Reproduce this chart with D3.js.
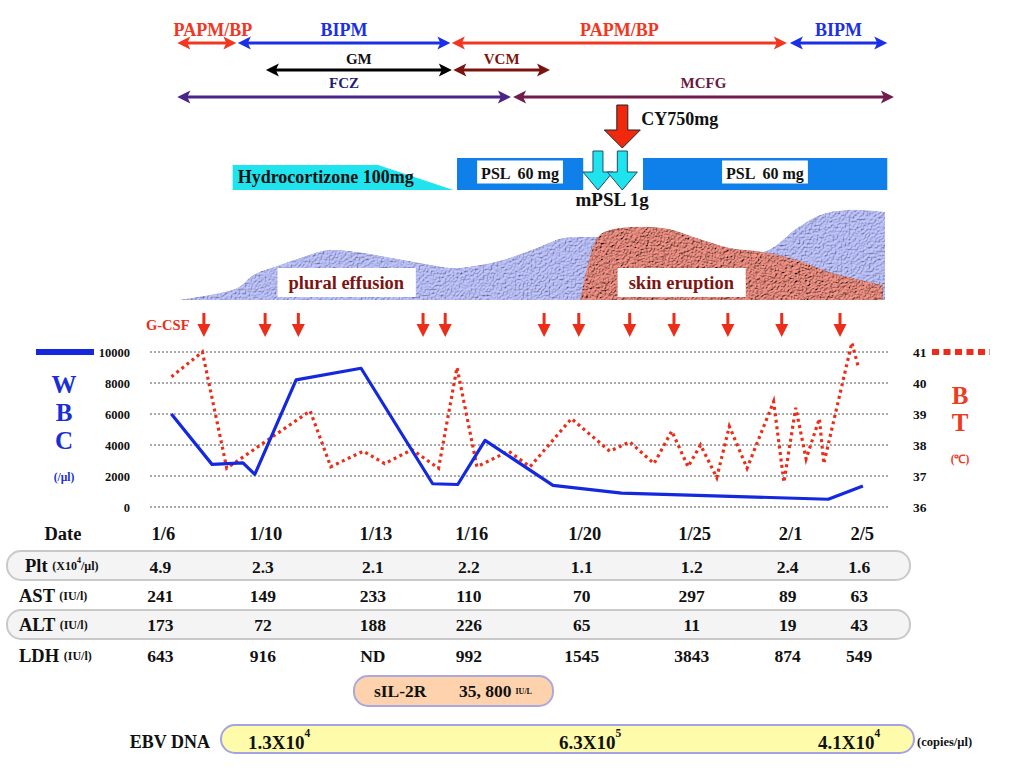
<!DOCTYPE html>
<html><head><meta charset="utf-8">
<script src="https://cdn.jsdelivr.net/npm/d3@7"></script>
<style>
html,body{margin:0;padding:0;background:#fff;}
svg{display:block;font-family:"Liberation Serif","Times New Roman",serif;font-weight:bold;}
</style></head><body>
<svg id="c" width="1024" height="768"></svg>
<script>
// ---------------- DATA ----------------
// relative timeline position (0..100) of each observation
const wbcT = [2.9, 8.4, 12.6, 14.2, 19.8, 28.6, 38.3, 41.7, 45.4, 54.6, 63.9, 91.9, 96.6];
const wbcV = [6000, 2750, 2850, 2100, 8200, 8950, 1500, 1450, 4300, 1400, 900, 500, 1350];
const btT = [2.9,7.1,10.4,21.7,24.5,28.9,31.8,35.5,39.1,41.6,44.3,48.6,51.5,57.1,62.3,65.0,68.3,70.7,72.9,74.6,76.8,78.5,80.9,84.5,85.9,87.5,88.9,90.7,91.3,95.1,96.0];
const btV = [40.2,41.0,37.25,39.1,37.3,37.8,37.4,37.85,37.25,40.5,37.3,37.8,37.3,38.85,37.8,38.1,37.4,38.45,37.3,38.0,36.95,38.6,37.25,39.4,36.8,39.2,37.55,38.85,37.4,41.3,40.5];
const wbcTicks = [0, 2000, 4000, 6000, 8000, 10000];
const btTicks = [36, 37, 38, 39, 40, 41];

const regNames = ["PAPM/BP","BIPM","PAPM/BP","BIPM","GM","VCM","FCZ","MCFG"];
const regRow   = [0,0,0,0,1,1,2,2];
const regStart = [3.7, 11.9, 40.9, 86.7, 15.7, 41.1, 3.7, 49.2];
const regEnd   = [11.7, 40.7, 86.3, 99.9, 40.9, 54.2, 48.9, 100.8];

const gcsfT = [7.3,15.6,20.1,37.0,40.0,53.4,58.1,65.0,71.0,78.3,85.6,93.5];
const hydroT = [11.2, 30.9, 41.1];       // start, taper start, taper end
const pslStart = [41.6, 66.8];
const pslEnd   = [58.7, 99.9];
const cyT = 64.0;
const mpslT = [60.7, 64.0];

const effusionT = [3.7,11.8,14.0,17.6,20.7,24.0,28.0,32.1,36.6,41.1,44.7,47.8,52.4,56.0,59.6,64,70,76,83.1,87.7,90.8,94.4,99.6];
const effusionV = [0,12,25,35,43,50,48,43,37,32,35,40,52,62,63,64,62,56,48,72,85,90,88];
const eruptionT = [58.3,60.6,62.3,69.5,74.1,78.6,83.1,87.7,92.1,99.3];
const eruptionV = [0,62,70,72,62,52,48,40,28,15];

const dates = ["1/6","1/10","1/13","1/16","1/20","1/25","2/1","2/5"];
const dateT = [1.4, 15.3, 30.2, 43.2, 58.5, 73.4, 86.4, 96.1];
const plt = [4.9, 2.3, 2.1, 2.2, 1.1, 1.2, 2.4, 1.6];
const ast = [241, 149, 233, 110, 70, 297, 89, 63];
const alt = [173, 72, 188, 226, 65, 11, 19, 43];
const ldh = [643, 916, null, 992, 1545, 3843, 874, 549];

const ebvMant = ["1.3", "6.3", "4.1"];
const ebvExp  = [4, 5, 4];

// ---------------- STYLE ----------------
const regColor = {"PAPM/BP":"#f2361f","BIPM":"#1a2fe6","GM":"#000000","VCM":"#7a1410","FCZ":"#4a2585","MCFG":"#701c4c"};
const regLabel = {"PAPM/BP":"#f2361f","BIPM":"#1a2fe6","GM":"#111111","VCM":"#801510","FCZ":"#1c1c78","MCFG":"#6a1840"};
const RED = "#ec2d1a", BLUE = "#1428e0", CYAN = "#1fe4ee", PSLBLUE = "#0f80ea";

const svg = d3.select("#c");
const x  = d3.scaleLinear().domain([0,100]).range([150,888]);
const yW = d3.scaleLinear().domain([0,10000]).range([507,352]);
const yT = d3.scaleLinear().domain([36,41]).range([507,352]);
const yS = d3.scaleLinear().domain([0,100]).range([300,200]);

const defs = svg.append("defs");
function texFilter(id, freq, scale, k, elev){
  const f = defs.append("filter").attr("id",id).attr("x",0).attr("y",0).attr("width",1).attr("height",1);
  f.append("feTurbulence").attr("type","fractalNoise").attr("baseFrequency",freq).attr("numOctaves",3).attr("seed",5).attr("result","noise");
  const l = f.append("feDiffuseLighting").attr("in","noise").attr("lighting-color","#fff").attr("surfaceScale",scale).attr("result","light");
  l.append("feDistantLight").attr("azimuth",235).attr("elevation",elev);
  f.append("feComposite").attr("in","SourceGraphic").attr("in2","light").attr("operator","arithmetic")
    .attr("k1",k).attr("k2",0).attr("k3",0).attr("k4",0).attr("result","lit");
  f.append("feComposite").attr("in","lit").attr("in2","SourceGraphic").attr("operator","in");
}
texFilter("texBlue", 0.5, 2.2, 1.25, 55);
texFilter("texRed", 1.8, 4, 1.25, 50);

// ---------------- REGIMEN ARROWS ----------------
const rowY = [43, 70, 97], labY = [30, 59, 83], labSize = [18, 15, 15];
const gReg = svg.append("g");
regNames.forEach((n,i)=>{
  const x1 = x(regStart[i]), x2 = x(regEnd[i]), y = rowY[regRow[i]], c = regColor[n];
  gReg.append("line").attr("x1",x1+8).attr("x2",x2-8).attr("y1",y).attr("y2",y)
    .attr("stroke",c).attr("stroke-width",3);
  gReg.append("path").attr("fill",c)
    .attr("d",`M${x1},${y} L${x1+13},${y-6.5} L${x1+10},${y} L${x1+13},${y+6.5} Z`);
  gReg.append("path").attr("fill",c)
    .attr("d",`M${x2},${y} L${x2-13},${y-6.5} L${x2-10},${y} L${x2-13},${y+6.5} Z`);
  gReg.append("text").attr("x",(x1+x2)/2 + (i===0?6:0)).attr("y",labY[regRow[i]])
    .attr("text-anchor","middle").attr("dominant-baseline","central")
    .attr("font-size",labSize[regRow[i]]).attr("fill",regLabel[n]).text(n);
});

// ---------------- STEROIDS ----------------
svg.append("path").attr("fill",CYAN)
  .attr("d",`M${x(hydroT[0])},165 L${x(hydroT[1])},165 L${x(hydroT[2])},190 L${x(hydroT[0])},190 Z`);
svg.append("text").attr("x",x(hydroT[0])+5).attr("y",177).attr("dominant-baseline","central")
  .attr("font-size",18).attr("fill","#111").text("Hydrocortizone 100mg");

pslStart.forEach((s,i)=>{
  const x1 = x(s), x2 = x(pslEnd[i]);
  svg.append("rect").attr("x",x1).attr("y",158).attr("width",x2-x1).attr("height",32).attr("fill",PSLBLUE);
  const cx = i===0 ? x1 + 63 : x1 + 122;
  const t = svg.append("text").attr("x",cx).attr("y",173).attr("text-anchor","middle")
    .attr("dominant-baseline","central").attr("font-size",16).attr("fill","#111")
    .style("white-space","pre").text("PSL  60 mg");
  const b = t.node().getBBox();
  svg.insert("rect", () => t.node()).attr("x",b.x-4).attr("y",160.5).attr("width",b.width+8).attr("height",23).attr("fill","#fff");
});

function blockArrow(cx, top, neck, tip, sw, hw, fill, stroke){
  svg.append("path").attr("fill",fill).attr("stroke",stroke).attr("stroke-width",1)
    .attr("d",`M${cx-sw},${top} L${cx+sw},${top} L${cx+sw},${neck} L${cx+hw},${neck} L${cx},${tip} L${cx-hw},${neck} L${cx-sw},${neck} Z`);
}
mpslT.forEach(t=>blockArrow(x(t),151,172,190,5,15,CYAN,"#1d4d6a"));
blockArrow(x(cyT),105,130,148,5.5,18,"#f0280e","#222");
svg.append("text").attr("x",x(cyT)+19).attr("y",119).attr("dominant-baseline","central")
  .attr("font-size",18).attr("fill","#111").text("CY750mg");
svg.append("text").attr("x",(x(mpslT[0])+x(mpslT[1]))/2+2).attr("y",199).attr("text-anchor","middle")
  .attr("dominant-baseline","central").attr("font-size",19).attr("fill","#111").text("mPSL 1g");

// ---------------- SYMPTOM AREAS ----------------
const area = d3.area().x(d=>x(d[0])).y0(yS(0)).y1(d=>yS(d[1])).curve(d3.curveCatmullRom.alpha(0.5));
svg.append("path").datum(effusionT.map((t,i)=>[t,effusionV[i]])).attr("d",area)
  .attr("fill","#b2b8ee").attr("filter","url(#texBlue)");
svg.append("path").datum(eruptionT.map((t,i)=>[t,eruptionV[i]])).attr("d",area)
  .attr("fill","#e2887c").attr("filter","url(#texRed)");
function boxLabel(cx, txt){
  const t = svg.append("text").attr("x",cx).attr("y",283).attr("text-anchor","middle")
    .attr("dominant-baseline","central").attr("font-size",18.5).attr("fill","#7e1412").text(txt);
  const b = t.node().getBBox();
  svg.insert("rect", () => t.node()).attr("x",b.x-11).attr("y",268).attr("width",b.width+22).attr("height",29).attr("fill","#fff");
}
boxLabel(x(26.6), "plural effusion");
boxLabel(x(72.0), "skin eruption");

// ---------------- G-CSF ----------------
svg.append("text").attr("x",146).attr("y",325).attr("dominant-baseline","central")
  .attr("font-size",14.5).attr("fill",RED).text("G-CSF");
svg.append("g").selectAll("path").data(gcsfT).join("path").attr("fill",RED)
  .attr("d",t=>{const c=x(t);return `M${c-1.5},313 L${c+1.5},313 L${c+1.5},324 L${c+6.5},324 L${c},337 L${c-6.5},324 L${c-1.5},324 Z`;});

// ---------------- CHART ----------------
svg.append("g").selectAll("line").data(wbcTicks).join("line")
  .attr("x1",x(0)).attr("x2",x(100)).attr("y1",d=>yW(d)).attr("y2",d=>yW(d))
  .attr("stroke","#555").attr("stroke-width",1).attr("stroke-dasharray","2,2");

const axL = svg.append("g").attr("transform",`translate(${x(0)},0)`)
  .call(d3.axisLeft(yW).tickValues(wbcTicks).tickSize(0).tickPadding(20).tickFormat(d3.format("d")));
axL.select(".domain").remove();
axL.selectAll("text").attr("font-size",12.5).attr("font-family","Liberation Serif").attr("font-weight","bold").attr("fill","#111");
const axR = svg.append("g").attr("transform",`translate(${x(100)},0)`)
  .call(d3.axisRight(yT).tickValues(btTicks).tickSize(0).tickPadding(25).tickFormat(d3.format("d")));
axR.select(".domain").remove();
axR.selectAll("text").attr("font-size",13.5).attr("font-family","Liberation Serif").attr("font-weight","bold").attr("fill","#111");

svg.append("path").datum(btT.map((t,i)=>[t,btV[i]]))
  .attr("d",d3.line().x(d=>x(d[0])).y(d=>yT(d[1])))
  .attr("fill","none").attr("stroke",RED).attr("stroke-width",3.2).attr("stroke-dasharray","3,3.5");
svg.append("path").datum(wbcT.map((t,i)=>[t,wbcV[i]]))
  .attr("d",d3.line().x(d=>x(d[0])).y(d=>yW(d[1])))
  .attr("fill","none").attr("stroke",BLUE).attr("stroke-width",3.2).attr("stroke-linejoin","round");

// legends / axis titles
svg.append("line").attr("x1",36).attr("x2",94).attr("y1",yW(10000)).attr("y2",yW(10000)).attr("stroke",BLUE).attr("stroke-width",6);
svg.append("line").attr("x1",932).attr("x2",990).attr("y1",yT(41)).attr("y2",yT(41)).attr("stroke",RED).attr("stroke-width",6).attr("stroke-dasharray","7,4.5");
["W","B","C"].forEach((c,i)=>svg.append("text").attr("x",64).attr("y",384+i*28).attr("text-anchor","middle")
  .attr("dominant-baseline","central").attr("font-size",25).attr("fill","#1a2ed8").text(c));
svg.append("text").attr("x",64).attr("y",477).attr("text-anchor","middle").attr("dominant-baseline","central")
  .attr("font-size",11.5).attr("fill","#1a2ed8").text("(/µl)");
["B","T"].forEach((c,i)=>svg.append("text").attr("x",960).attr("y",395+i*27).attr("text-anchor","middle")
  .attr("dominant-baseline","central").attr("font-size",25).attr("fill","#ee3a1e").text(c));
svg.append("text").attr("x",960).attr("y",459).attr("text-anchor","middle").attr("dominant-baseline","central")
  .attr("font-size",11.5).attr("fill","#ee3a1e").text("(℃)");

// ---------------- TABLE ----------------
svg.append("rect").attr("x",7).attr("y",551).attr("width",903).attr("height",29).attr("rx",14)
  .attr("fill","#f4f4f4").attr("stroke","#c9c9c9").attr("stroke-width",2);
svg.append("rect").attr("x",7).attr("y",610).attr("width",903).attr("height",29).attr("rx",14)
  .attr("fill","#f4f4f4").attr("stroke","#c9c9c9").attr("stroke-width",2);

svg.append("text").attr("x",63).attr("y",534).attr("text-anchor","middle").attr("dominant-baseline","central")
  .attr("font-size",18.5).attr("fill","#111").text("Date");
svg.append("g").selectAll("text").data(dates).join("text")
  .attr("x",(d,i)=>x(dateT[i])+3).attr("y",534).attr("text-anchor","middle").attr("dominant-baseline","central")
  .attr("font-size",18.5).attr("fill","#111").text(d=>d);

function rowLabel(y, lab, unit, sup, unit2){
  const t = svg.append("text").attr("x",lab==="Plt"?25:19).attr("y",y).attr("dominant-baseline","central").attr("fill","#111");
  t.append("tspan").attr("font-size",18.5).text(lab + " ");
  t.append("tspan").attr("font-size",12).text(unit);
  if (sup){
    t.append("tspan").attr("font-size",8).attr("dy",-6).text(sup);
    t.append("tspan").attr("font-size",12).attr("dy",6).text(unit2);
  }
}
rowLabel(566, "Plt", "(X10", "4", "/µl)");
rowLabel(596, "AST", "(IU/l)");
rowLabel(625, "ALT", "(IU/l)");
rowLabel(656, "LDH", "(IU/l)");

function rowValues(vals, y, fmt){
  svg.append("g").selectAll("text").data(vals).join("text")
    .attr("x",(d,i)=>x(dateT[i])).attr("y",y).attr("text-anchor","middle").attr("dominant-baseline","central")
    .attr("font-size",17.5).attr("fill","#111").text(d=>d===null?"ND":fmt(d));
}
rowValues(plt, 567, d3.format(".1f"));
rowValues(ast, 596, d3.format("d"));
rowValues(alt, 625, d3.format("d"));
rowValues(ldh, 656, d3.format("d"));

// sIL-2R
svg.append("rect").attr("x",354).attr("y",676).attr("width",199).attr("height",30).attr("rx",14)
  .attr("fill","#fdd2ad").attr("stroke","#a9a9e2").attr("stroke-width",2);
const sil = svg.append("text").attr("x",374).attr("y",691).attr("dominant-baseline","central").attr("fill","#111");
sil.append("tspan").attr("font-size",17.5).text("sIL-2R");
sil.append("tspan").attr("x",459).attr("font-size",17.5).text("35, 800");
sil.append("tspan").attr("dx",4).attr("font-size",8).text("IU/L");

// EBV DNA
svg.append("text").attr("x",210).attr("y",742).attr("text-anchor","end").attr("dominant-baseline","central")
  .attr("font-size",18).attr("fill","#111").text("EBV DNA");
svg.append("rect").attr("x",221).attr("y",725).attr("width",693).attr("height",28).attr("rx",14)
  .attr("fill","#fefbab").attr("stroke","#a3a3e6").attr("stroke-width",2);
const ebvX = [248, 559, 818];
ebvMant.forEach((m,i)=>{
  const t = svg.append("text").attr("x",ebvX[i]).attr("y",742).attr("dominant-baseline","central").attr("fill","#111");
  t.append("tspan").attr("font-size",19).text(m + "X10");
  t.append("tspan").attr("font-size",11.5).attr("dy",-9).text(ebvExp[i]);
});
svg.append("text").attr("x",917).attr("y",742).attr("dominant-baseline","central")
  .attr("font-size",12.5).attr("fill","#111").text("(copies/µl)");
</script>
</body></html>
